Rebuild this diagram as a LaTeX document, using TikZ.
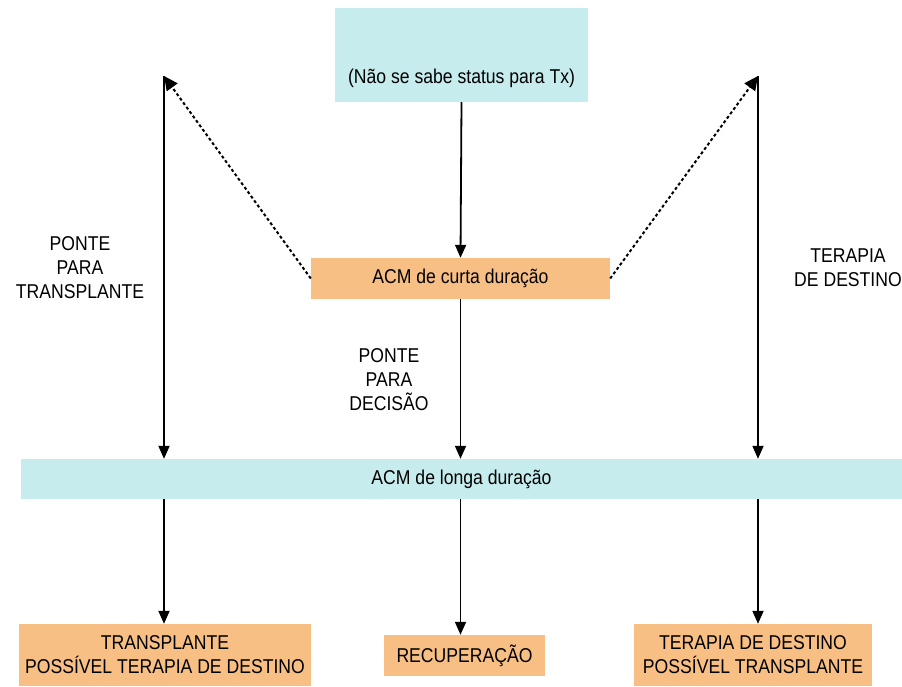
\documentclass[tikz,border=0pt]{standalone}
\usepackage{fontspec}
\setmainfont{Liberation Sans}[FakeStretch=0.88]
\usetikzlibrary{arrows.meta}
\definecolor{cyanbox}{RGB}{198,236,237}
\definecolor{orangebox}{RGB}{248,191,133}
\begin{document}
\begin{tikzpicture}[x=1pt,y=-1pt,
  every node/.style={font=\fontsize{20}{24}\selectfont, align=center, inner sep=0pt},
  cbox/.style={fill=cyanbox, draw=none},
  obox/.style={fill=orangebox, draw=none},
  arr/.style={line width=1.8pt, -{Triangle[length=13pt,width=11pt]}},
  dotarr/.style={line width=2pt, dash pattern=on 3pt off 2.5pt, -{Triangle[length=14pt,width=13pt]}},
  lbl/.style={}]
\useasboundingbox (0,0) rectangle (902,686);
\fill[white] (0,0) rectangle (902,686);
% boxes
\node[cbox, minimum width=253pt, minimum height=94pt,
      label={[yshift=-23pt, font=\fontsize{20}{24}\selectfont]center:(Não se sabe status para Tx)}] (top) at (461.5,55) {};
\node[obox, minimum width=299pt, minimum height=41pt] (curta) at (460.5,278.5) {ACM de curta duração};
\node[cbox, minimum width=881pt, minimum height=40pt] (longa) at (461.5,479) {ACM de longa duração};
\node[obox, minimum width=292pt, minimum height=62pt] (bl) at (165,655) {TRANSPLANTE\\POSSÍVEL TERAPIA DE DESTINO};
\node[obox, minimum width=161pt, minimum height=41pt] (bm) at (464.5,655.5) {RECUPERAÇÃO};
\node[obox, minimum width=238pt, minimum height=62pt] (br) at (753,655) {TERAPIA DE DESTINO\\POSSÍVEL TRANSPLANTE};
% labels
\node[lbl] (l1) at (80,268) {PONTE\\PARA\\TRANSPLANTE};
\node[lbl] (l2) at (848,268) {TERAPIA\\DE DESTINO};
\node[lbl] (l3) at (389,380) {PONTE\\PARA\\DECISÃO};
% coordinates
\coordinate (ltop) at (164,76);
\coordinate (rtop) at (758,76);
% connectors
\draw[arr] (top.south) -- (curta.north);
\draw[arr] (curta.south) -- (curta.south |- longa.north);
\draw[arr] (ltop) -- (ltop |- longa.north);
\draw[arr] (rtop) -- (rtop |- longa.north);
\draw[arr] (ltop |- longa.south) -- (ltop |- bl.north);
\draw[arr] (curta.south |- longa.south) -- (curta.south |- bm.north);
\draw[arr] (rtop |- longa.south) -- (rtop |- br.north);
\draw[dotarr] (curta.west) -- (ltop);
\draw[dotarr] (curta.east) -- (rtop);
\end{tikzpicture}
\end{document}
